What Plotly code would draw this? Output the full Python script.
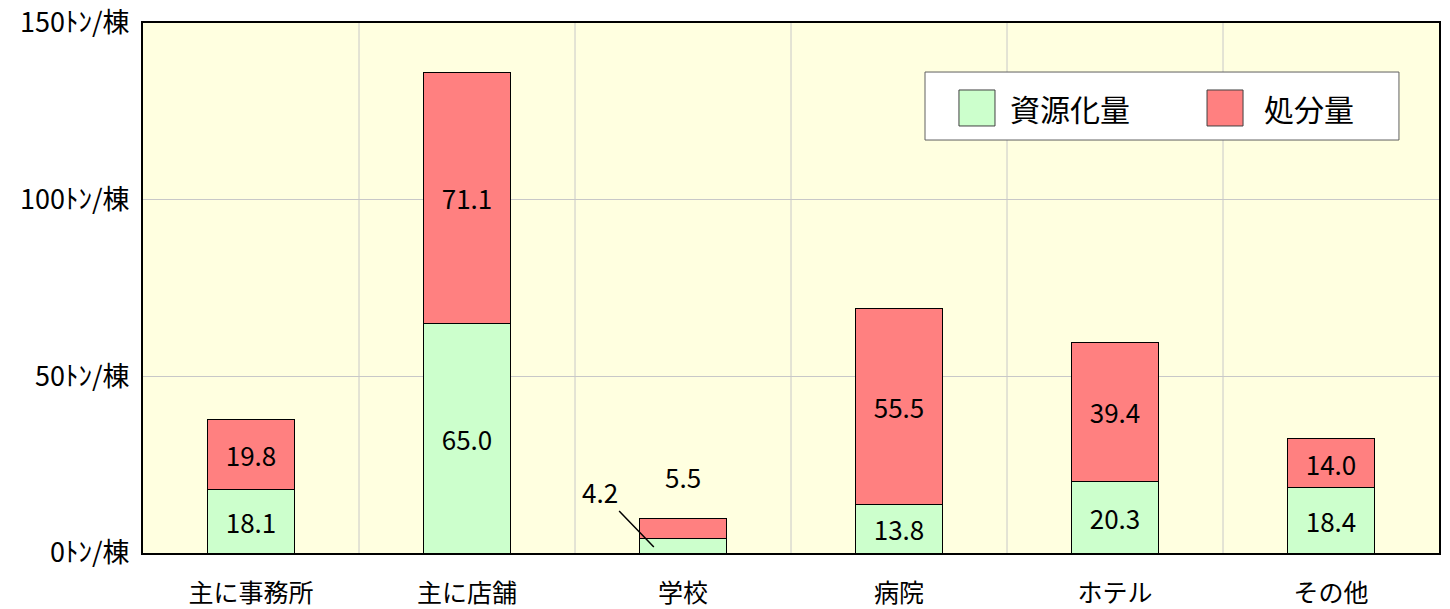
import plotly.graph_objects as go

categories = ["主に事務所", "主に店舗", "学校", "病院", "ホテル", "その他"]
recycled = [18.1, 65.0, 4.2, 13.8, 20.3, 18.4]
disposed = [19.8, 71.1, 5.5, 55.5, 39.4, 14.0]
series_names = ["資源化量", "処分量"]
series_colors = ["#CCFFCC", "#FF8080"]
y_ticks = [0, 50, 100, 150]
y_ticktext = [f"{v}ﾄﾝ/棟" for v in y_ticks]

FONT = "Noto Sans CJK JP"
LABEL_SIZE = 26
xpos = list(range(len(categories)))
# the short bar gets its labels outside the bar
small = [v < 10 for v in disposed]

fig = go.Figure()
for name, color, vals in zip(series_names, series_colors, [recycled, disposed]):
    fig.add_trace(go.Bar(
        x=xpos, y=vals, name=name,
        marker=dict(color=color, line=dict(color="#000000", width=1)),
        text=["" if s else f"{v:.1f}" for v, s in zip(vals, small)],
        textposition="inside", insidetextanchor="middle",
        textfont=dict(family=FONT, size=LABEL_SIZE, color="#000000"),
        width=0.4, showlegend=False,
    ))

annotations = []
for i, s in enumerate(small):
    if not s:
        continue
    annotations.append(dict(x=i, y=recycled[i] + disposed[i], yshift=42,
                            text=f"{disposed[i]:.1f}", showarrow=False,
                            font=dict(family=FONT, size=LABEL_SIZE, color="#000000"),
                            xref="x", yref="y"))
    annotations.append(dict(x=i - 0.135, y=recycled[i] * 0.4, text=f"{recycled[i]:.1f}",
                            showarrow=True, arrowhead=0, arrowwidth=1.5, arrowcolor="#000000",
                            ax=-54, ay=-56, standoff=0,
                            font=dict(family=FONT, size=LABEL_SIZE, color="#000000"),
                            xref="x", yref="y"))

# vertical separators between categories
shapes = []
for i in range(len(categories) - 1):
    shapes.append(dict(type="line", xref="x", yref="paper", x0=i + 0.5, x1=i + 0.5,
                       y0=0, y1=1, line=dict(color="#C8C8C8", width=1), layer="below"))

# legend box drawn in paper coordinates
shapes.append(dict(type="rect", xref="paper", yref="paper", x0=0.6034, x1=0.9691,
                   y0=0.7792, y1=0.9075, fillcolor="#FFFFFF",
                   line=dict(color="#606060", width=1)))
legend_x = [(0.6296, 0.6574, 0.6674), (0.8210, 0.8488, 0.8634)]
for (sx0, sx1, tx), name, color in zip(legend_x, series_names, series_colors):
    shapes.append(dict(type="rect", xref="paper", yref="paper", x0=sx0, x1=sx1,
                       y0=0.8057, y1=0.8736, fillcolor=color,
                       line=dict(color="#404040", width=1)))
    annotations.append(dict(x=tx, y=0.8396, xref="paper", yref="paper", text=name,
                            showarrow=False, xanchor="left", yanchor="middle",
                            font=dict(family=FONT, size=30, color="#000000")))

fig.update_layout(
    width=1450, height=609,
    margin=dict(l=143, r=11, t=23, b=56),
    paper_bgcolor="#FFFFFF",
    plot_bgcolor="#FFFFE0",
    barmode="stack",
    shapes=shapes,
    annotations=annotations,
    font=dict(family=FONT, size=25, color="#000000"),
    showlegend=False,
    xaxis=dict(
        tickmode="array", tickvals=xpos, ticktext=categories,
        range=[-0.5, len(categories) - 0.5],
        showgrid=False, showline=True, linecolor="#000000", linewidth=2, mirror=True,
        ticks="", tickfont=dict(family=FONT, size=25), ticklabelstandoff=17,
        automargin=False, fixedrange=True,
    ),
    yaxis=dict(
        range=[0, 150], tickmode="array", tickvals=y_ticks, ticktext=y_ticktext,
        showgrid=True, gridcolor="#C8C8C8", gridwidth=1, zeroline=False,
        showline=True, linecolor="#000000", linewidth=2, mirror=True,
        ticks="", tickfont=dict(family=FONT, size=27), ticklabelstandoff=6,
        automargin=False, fixedrange=True,
    ),
)

fig.write_html("out.html")
